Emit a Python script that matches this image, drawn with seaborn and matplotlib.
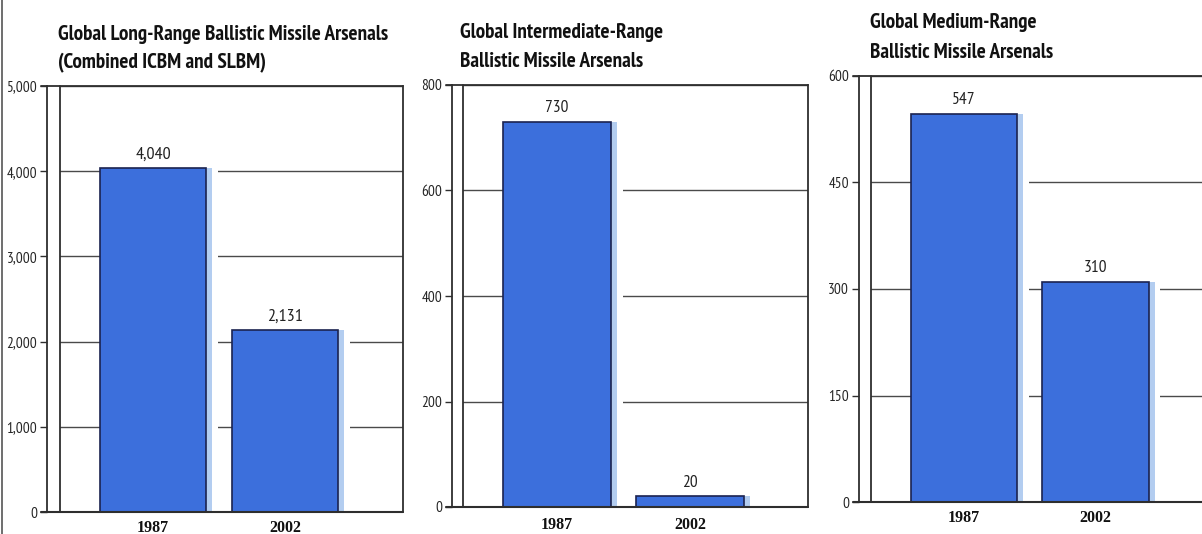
import matplotlib
matplotlib.use("Agg")
import matplotlib.pyplot as plt
from matplotlib import font_manager as fm
from matplotlib.lines import Line2D
import numpy as np
import pandas as pd
import seaborn as sns

# --- data ---------------------------------------------------------------
years = ["1987", "2002"]
long_range = [4040, 2131]
intermediate_range = [730, 20]
medium_range = [547, 310]

title_lines = [
    ["Global Long-Range Ballistic Missile Arsenals", "(Combined ICBM and SLBM)"],
    ["Global Intermediate-Range", "Ballistic Missile Arsenals"],
    ["Global Medium-Range", "Ballistic Missile Arsenals"],
]
y_ticks = [
    [0, 1000, 2000, 3000, 4000, 5000],
    [0, 200, 400, 600, 800],
    [0, 150, 300, 450, 600],
]
y_tick_labels = [
    ["0", "1,000", "2,000", "3,000", "4,000", "5,000"],
    ["0", "200", "400", "600", "800"],
    ["0", "150", "300", "450", "600"],
]
value_labels = [
    ["4,040", "2,131"],
    ["730", "20"],
    ["547", "310"],
]

# --- fonts --------------------------------------------------------------
sns.set_theme(style="white")
_available = {f.name for f in fm.fontManager.ttflist}


def pick(candidates, fallback):
    for c in candidates:
        if c in _available:
            return [c, fallback]
    return [fallback]


NARROW = pick(["PT Sans Narrow", "Roboto Condensed", "Fira Sans Condensed",
               "Archivo Narrow", "Asap Condensed", "Liberation Sans Narrow"],
              "DejaVu Sans")
SERIF = pick(["Liberation Serif"], "DejaVu Serif")
plt.rcParams["font.family"] = NARROW

BLUE = "#3c6fdc"
EDGE = "#1b2350"
SHADOW = "#b3cdf0"
FRAME = "#2e2e2e"
GRID = "#4a4a4a"

W, H = 1202, 534
fig = plt.figure(figsize=(W / 100, H / 100), dpi=100)
fig.patch.set_facecolor("white")
renderer = fig.canvas.get_renderer()

# inner frame of each panel in pixels: (left, right, top, bottom)
boxes = [(60, 403, 86, 512), (463, 808, 85, 507), (871, 1213, 76, 502)]
outer_gap = [13, 11, 12]
xlims = [(-0.705, 1.894), (-0.707, 1.887), (-0.707, 1.895)]
tick_fonts = [NARROW, SERIF, SERIF]
tick_sizes = [10, 8.5, 8.5]
value_sizes = [13, 12.5, 12.5]
title_pos = [(58, 40), (460, 38), (870, 28)]
title_width = [330, 203, 167]
title_gap = [28, 29, 30]
xlabel_pad = [5.5, 7.5, 6]

series = [long_range, intermediate_range, medium_range]
BAR_W = 0.81

for i, vals in enumerate(series):
    l, r, t, b = boxes[i]
    ax = fig.add_axes([l / W, 1 - b / H, (r - l) / W, (b - t) / H])
    df = pd.DataFrame({"year": years, "count": vals})
    ymax = y_ticks[i][-1]

    # white clearance and light shadow to the right of each bar
    xpos = np.arange(len(years))
    ax.bar(xpos - BAR_W / 2, vals, width=BAR_W + 0.09, align="edge",
           color="white", linewidth=0, zorder=2)
    ax.bar(xpos + BAR_W / 2, vals, width=0.045, align="edge",
           color=SHADOW, linewidth=0, zorder=2.5)

    sns.barplot(data=df, x="year", y="count", color=BLUE, saturation=1,
                width=BAR_W, edgecolor=EDGE, linewidth=1.2, ax=ax, zorder=3)

    ax.set_xlim(*xlims[i])
    ax.set_ylim(0, ymax)

    # value annotations
    for xp, v, lab in zip(xpos, vals, value_labels[i]):
        ax.annotate(lab, (xp, v), xytext=(0, 4), textcoords="offset points",
                    ha="center", va="bottom", fontsize=value_sizes[i],
                    family=NARROW, color="#222222")

    # y ticks and gridlines
    ax.set_yticks(y_ticks[i])
    ax.set_yticklabels(y_tick_labels[i], family=tick_fonts[i],
                       fontsize=tick_sizes[i], color="#333333")
    ax.yaxis.grid(True, color=GRID, linewidth=1.0)
    ax.set_axisbelow(True)

    # x tick labels
    ax.set_xticks(xpos)
    ax.set_xticklabels(years, family=SERIF, fontweight="bold", fontsize=11.5,
                       color="#111111")
    ax.tick_params(axis="x", length=0, pad=xlabel_pad[i])

    # frame: outer y axis with ticks, inner left border, top/bottom rules
    ax.spines["left"].set_position(("outward", outer_gap[i] * 0.72))
    for s in ["left", "right"]:
        ax.spines[s].set_color(FRAME)
        ax.spines[s].set_linewidth(1.3)
    ax.spines["top"].set_visible(False)
    ax.spines["bottom"].set_visible(False)
    ext = -(outer_gap[i] + 6) / (r - l)
    ax.axhline(0, xmin=ext, xmax=1, color=FRAME, lw=1.5, clip_on=False, zorder=4)
    ax.axhline(ymax, xmin=ext, xmax=1, color=FRAME, lw=1.3, clip_on=False, zorder=4)
    ax.axvline(xlims[i][0], color=FRAME, lw=1.3, clip_on=False, zorder=4)
    ax.tick_params(axis="y", which="both", left=True, length=5, width=1,
                   color=FRAME, pad=2)
    ax.set_xlabel("")
    ax.set_ylabel("")

    # two-line title, first line sized to its printed width
    tx, ty = title_pos[i]
    first = fig.text(tx / W, 1 - ty / H, title_lines[i][0], family=NARROW,
                     fontweight="bold", fontsize=16, color="#111111",
                     ha="left", va="baseline")
    wpx = first.get_window_extent(renderer).width
    size = 16 * title_width[i] / wpx
    first.set_fontsize(size)
    fig.text(tx / W, 1 - (ty + title_gap[i]) / H, title_lines[i][1],
             family=NARROW, fontweight="bold", fontsize=size, color="#111111",
             ha="left", va="baseline")

# page edge on the left
fig.add_artist(Line2D([2 / W, 2 / W], [0, 1], color="#555555", lw=1.2))

fig.savefig("out.png", dpi=100, facecolor="white")
